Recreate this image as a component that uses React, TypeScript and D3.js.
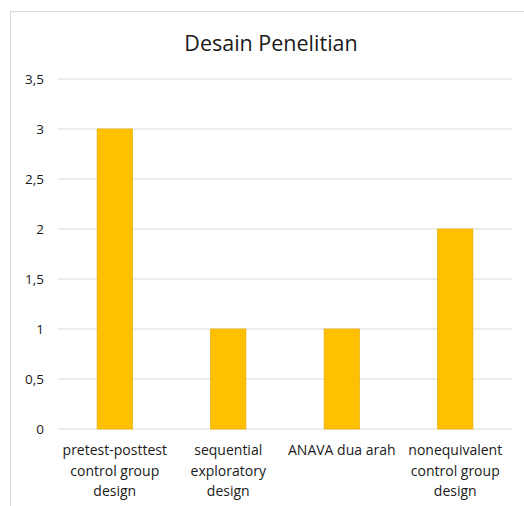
import React from "react";
import * as d3 from "d3";

const categories = [
  ["pretest-posttest", "control group", "design"],
  ["sequential", "exploratory", "design"],
  ["ANAVA dua arah"],
  ["nonequivalent", "control group", "design"],
];
const values = [3, 1, 1, 2];
const yTicks = [0, 0.5, 1, 1.5, 2, 2.5, 3, 3.5];
const title = "Desain Penelitian";

export default function App() {
  const W = 524, H = 506;
  const x = d3.scaleBand<number>().domain(d3.range(categories.length)).range([58, 512]).paddingInner(0.69).paddingOuter(0.345);
  const y = d3.scaleLinear().domain([0, 3.5]).range([429, 79]);
  const fmt = (v: number) => String(v).replace(".", ",");
  const font = "'Open Sans', 'Noto Sans', sans-serif";
  return (
    <svg width={W} height={H} style={{ position: "absolute", left: 0, top: 0, background: "#fff" }} fontFamily={font}>
      <rect x={10.5} y={11.5} width={700} height={700} fill="#fff" stroke="#D9D9D9" />
      <text x={271} y={51} textAnchor="middle" fontSize={21.5} fill="#1a1a1a">{title}</text>
      {yTicks.map((t) => (
        <g key={t}>
          <line x1={58} x2={512} y1={y(t)} y2={y(t)} stroke="#D9D9D9" strokeWidth={1.2} />
          <text x={44} y={y(t) + 5} textAnchor="end" fontSize={13.5} fill="#1a1a1a">{fmt(t)}</text>
        </g>
      ))}
      {values.map((v, i) => (
        <rect key={i} x={x(i)!} y={y(v)} width={x.bandwidth()} height={y(0) - y(v)} fill="#FFC000" stroke="#E8AE00" strokeWidth={0.8} />
      ))}
      {categories.map((lines, i) => (
        <text key={i} textAnchor="middle" fontSize={14} fill="#1a1a1a">
          {lines.map((l, j) => (
            <tspan key={j} x={x(i)! + x.bandwidth() / 2} y={455 + j * 20.5}>{l}</tspan>
          ))}
        </text>
      ))}
    </svg>
  );
}
